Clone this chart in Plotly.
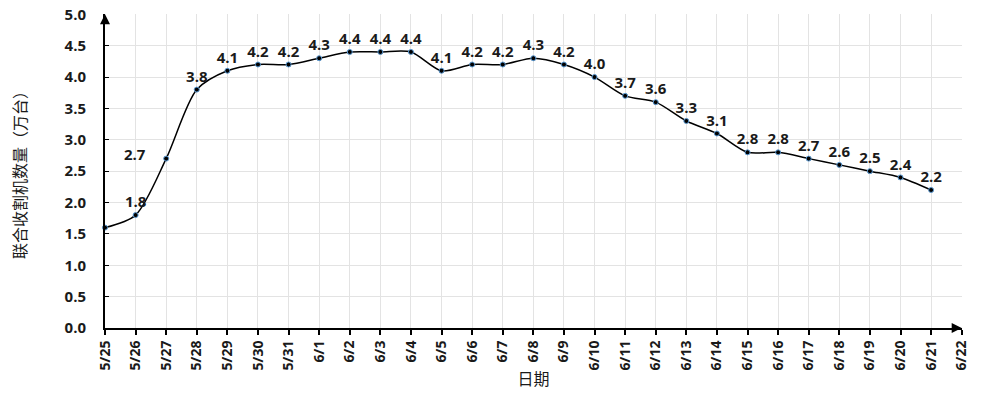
import plotly.graph_objects as go

dates = ["5/25", "5/26", "5/27", "5/28", "5/29", "5/30", "5/31", "6/1", "6/2", "6/3",
         "6/4", "6/5", "6/6", "6/7", "6/8", "6/9", "6/10", "6/11", "6/12", "6/13",
         "6/14", "6/15", "6/16", "6/17", "6/18", "6/19", "6/20", "6/21", "6/22"]
values = [1.6, 1.8, 2.7, 3.8, 4.1, 4.2, 4.2, 4.3, 4.4, 4.4,
          4.4, 4.1, 4.2, 4.2, 4.3, 4.2, 4.0, 3.7, 3.6, 3.3,
          3.1, 2.8, 2.8, 2.7, 2.6, 2.5, 2.4, 2.2]
y_ticks = [0.0, 0.5, 1.0, 1.5, 2.0, 2.5, 3.0, 3.5, 4.0, 4.5, 5.0]

xs = list(range(len(values)))
labels = ["" if i in (0, 2) else f"{v:.1f}" for i, v in enumerate(values)]

FONT = "Open Sans"
LABEL_FONT = dict(family=FONT, size=15, color="#1a1a1a", weight="bold")

fig = go.Figure()
fig.add_trace(go.Scatter(
    x=xs, y=values, mode="lines+markers+text",
    line=dict(color="black", width=1.5, shape="spline", smoothing=0.8),
    marker=dict(color="black", size=5, line=dict(color="#5b9bd5", width=1)),
    text=labels, textposition="top center",
    textfont=LABEL_FONT,
    cliponaxis=False, showlegend=False, hoverinfo="skip",
))

# the 5/27 label sits to the left of its point
fig.add_annotation(x=xs[2], y=values[2], text=f"{values[2]:.1f}", showarrow=False,
                   xshift=-31, yshift=5, font=LABEL_FONT)

fig.update_xaxes(
    range=[0, len(dates) - 1 + 0.01], tickmode="array", tickvals=list(range(len(dates))),
    ticktext=dates, tickangle=-90, showgrid=True, gridcolor="#e3e3e3", gridwidth=1,
    showline=True, linecolor="black", linewidth=2, ticks="outside", ticklen=5,
    tickcolor="black", tickwidth=2, automargin=False, ticklabeloverflow="allow",
    tickfont=dict(family=FONT, size=14, color="#1a1a1a", weight="bold"),
    title=dict(text="日期", font=dict(family="Noto Sans CJK SC", size=16, color="#1a1a1a"), standoff=4),
    zeroline=False,
)
fig.update_yaxes(
    range=[0, 5.005], tickmode="array", tickvals=y_ticks,
    ticktext=[f"{v:.1f}" for v in y_ticks], showgrid=True, gridcolor="#e3e3e3", gridwidth=1,
    showline=True, linecolor="black", linewidth=2, ticks="inside", ticklen=4,
    tickcolor="black", tickwidth=1, automargin=False, ticklabelstandoff=14,
    ticklabeloverflow="allow",
    tickfont=dict(family=FONT, size=15, color="#1a1a1a", weight="bold"),
    title=dict(text="联合收割机数量（万台）", font=dict(family="Noto Sans CJK SC", size=16, color="#1a1a1a"), standoff=34),
    zeroline=False,
)

# axis arrows
fig.add_annotation(x=0, y=5.0, ax=0, ay=4.9, xref="x", yref="y", axref="x", ayref="y",
                   showarrow=True, arrowhead=2, arrowsize=1, arrowwidth=2, arrowcolor="black", text="")
fig.add_annotation(x=len(dates) - 1, y=0, ax=len(dates) - 1.3, ay=0, xref="x", yref="y", axref="x", ayref="y",
                   showarrow=True, arrowhead=2, arrowsize=1, arrowwidth=2, arrowcolor="black", text="")

fig.update_layout(
    width=983, height=398,
    margin=dict(l=105, r=21, t=14, b=70),
    plot_bgcolor="white", paper_bgcolor="white",
)

fig.write_html("out.html", config={"displayModeBar": False},
               post_script="document.body.style.margin='0';")
